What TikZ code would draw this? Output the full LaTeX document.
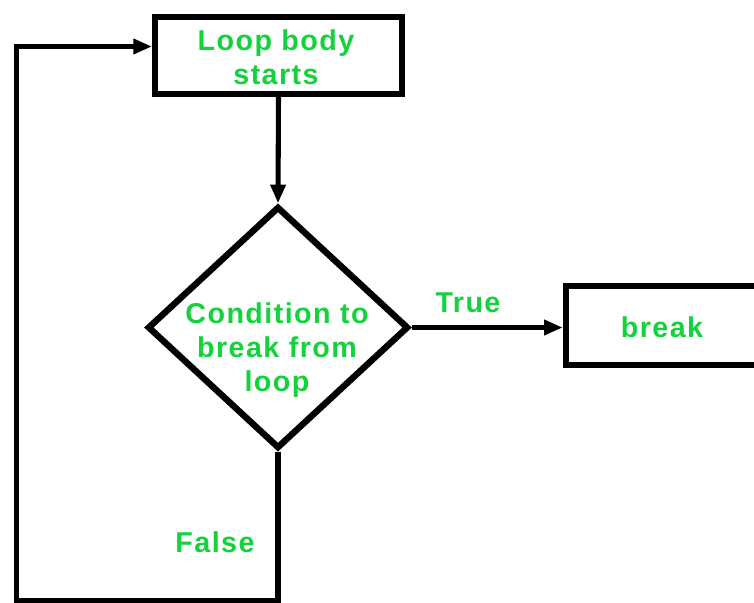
\documentclass[tikz,border=0pt]{standalone}
\usepackage{fontspec}
\setmainfont{Liberation Sans}[LetterSpace=5]
\usetikzlibrary{shapes.geometric,arrows.meta}
\definecolor{lblgreen}{RGB}{20,210,60}
\tikzset{
  boxnode/.style={draw=black, line width=4.5pt, rectangle, inner sep=0pt},
  decnode/.style={draw=black, line width=4.8pt, diamond, inner sep=0pt},
  lbl/.style={text=lblgreen, font=\fontsize{21.5pt}{25.5pt}\selectfont\bfseries, align=center, inner sep=0pt},
  conn/.style={line width=3.8pt, line join=miter},
  arr/.style={conn, -{Triangle[length=14pt,width=11pt]}}
}
\begin{document}
\begin{tikzpicture}[x=0.75pt,y=-0.75pt]
\useasboundingbox (0,0) rectangle (754,603);
\clip (0,0) rectangle (754,603);
\fill[white] (0,0) rectangle (754,603);
\node[boxnode, minimum width=185.25pt, minimum height=57.75pt] (top) at (278.5,55.5) {};
\node[lbl] (toptext) at (276,57) {Loop body\\starts};
\node[decnode, minimum width=195.75pt, minimum height=181.5pt] (cond) at (278,327.5) {};
\node[lbl] (condtext) at (277,350) {Condition to\\break from\\loop};
\node[boxnode, minimum width=144.4pt, minimum height=59.25pt] (brk) at (662,325.5) {};
\node[lbl] (brktext) at (662,327) {break};
\node[lbl] (truetext) at (468,303) {True};
\node[lbl] (falsetext) at (215,542) {False};
\coordinate (c1) at (278,601);
\coordinate (c2) at (16.5,601);
\coordinate (c3) at (16.5,46.5);
\draw[arr] (top.south) -- (cond.north);
\draw[arr] (cond.east) -- (cond.east -| brk.west);
\draw[arr] (cond.south) -- (c1) -- (c2) -- (c3) -- (c3 -| top.west);
\end{tikzpicture}
\end{document}
